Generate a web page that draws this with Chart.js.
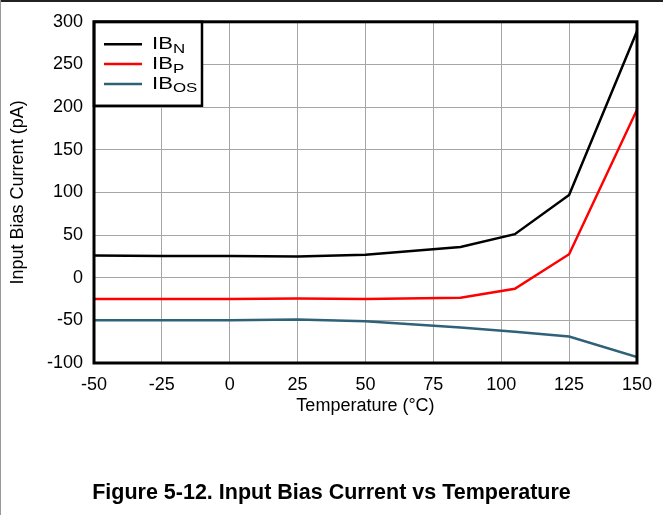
<!DOCTYPE html>
<html>
<head>
<meta charset="utf-8">
<script src="https://cdn.jsdelivr.net/npm/chart.js@4"></script>
<style>
  html, body { margin: 0; padding: 0; background: #fff; }
  #wrap { position: relative; width: 663px; height: 515px; overflow: hidden; }
  #frameTop { position: absolute; left: 0; top: 0; width: 663px; height: 2px; background: #222; }
  #frameLeft { position: absolute; left: 0; top: 0; width: 1px; height: 515px; background: #999; }
  #chartBox { position: absolute; left: 0; top: 0; width: 663px; height: 440px; }
  #caption { position: absolute; left: 0; top: 480px; width: 663px; text-align: center; line-height: 26px;
    font: bold 21.5px "Liberation Sans", Arial, sans-serif; color: #000; }
</style>
</head>
<body>
<div id="wrap">
  <div id="chartBox"><canvas id="c" width="663" height="440"></canvas></div>
  <div id="frameTop"></div>
  <div id="frameLeft"></div>
  <div id="caption">Figure 5-12. Input Bias Current vs Temperature</div>
</div>
<script>
const temps = [-50, -25, 0, 25, 50, 85, 105, 125, 150];
const ibN = [26, 25.5, 25.5, 25, 27, 36, 51, 97, 289];
const ibP = [-25, -25, -25, -24.5, -25, -23.5, -13, 27.5, 197];
const ibOS = [-50, -50, -50, -49, -51, -58.5, -63.5, -69, -93];
const xTicks = [-50, -25, 0, 25, 50, 75, 100, 125, 150];
const yTicks = [-100, -50, 0, 50, 100, 150, 200, 250, 300];

const seriesNames = ['N', 'P', 'OS'];
const seriesColors = ['#000000', '#ff0000', '#2f6178'];

function pts(vals) {
  return temps.map((t, i) => ({ x: t, y: vals[i] }));
}

const font = '"Liberation Sans", Arial, sans-serif';

const frameAndLegend = {
  id: 'frameAndLegend',
  afterDraw(chart) {
    const ctx = chart.ctx;
    const a = chart.chartArea;
    ctx.save();
    // legend box
    const lx = a.left, ly = a.top, lw = 108, lh = 84;
    ctx.fillStyle = '#fff';
    ctx.fillRect(lx, ly, lw, lh);
    ctx.strokeStyle = '#000';
    ctx.lineWidth = 2.5;
    ctx.strokeRect(lx, ly, lw, lh);
    for (let i = 0; i < seriesNames.length; i++) {
      const y = ly + 22.5 + i * 19.8;
      ctx.strokeStyle = seriesColors[i];
      ctx.lineWidth = 2.5;
      ctx.beginPath();
      ctx.moveTo(lx + 10, y);
      ctx.lineTo(lx + 48, y);
      ctx.stroke();
      // text slightly widened like the original
      ctx.save();
      ctx.translate(lx + 58, y);
      ctx.scale(1.3, 1);
      ctx.fillStyle = '#000';
      ctx.textBaseline = 'middle';
      ctx.textAlign = 'left';
      ctx.font = '17px ' + font;
      ctx.fillText('IB', 0, 0);
      const w = ctx.measureText('IB').width;
      ctx.font = '13px ' + font;
      ctx.fillText(seriesNames[i], w, 5);
      ctx.restore();
    }
    // plot frame
    ctx.strokeStyle = '#000';
    ctx.lineWidth = 3;
    ctx.strokeRect(a.left, a.top, a.right - a.left, a.bottom - a.top);
    ctx.restore();
  }
};

new Chart(document.getElementById('c'), {
  type: 'line',
  data: {
    datasets: [
      { label: 'IBN', data: pts(ibN), borderColor: seriesColors[0] },
      { label: 'IBP', data: pts(ibP), borderColor: seriesColors[1] },
      { label: 'IBOS', data: pts(ibOS), borderColor: seriesColors[2] }
    ].map(d => Object.assign(d, { borderWidth: 2.5, pointRadius: 0, tension: 0, fill: false }))
  },
  options: {
    responsive: false,
    animation: false,
    layout: { padding: { top: 17, right: 26, left: 0, bottom: 0 } },
    plugins: { legend: { display: false }, tooltip: { enabled: false } },
    scales: {
      x: {
        type: 'linear',
        min: -50,
        max: 150,
        afterBuildTicks(scale) { scale.ticks = xTicks.map(v => ({ value: v })); },
        afterFit(scale) { scale.height = 77; },
        grid: { color: '#a6a6a6', lineWidth: 1, drawTicks: false },
        border: { display: false },
        ticks: { color: '#000', font: { family: font, size: 18 }, padding: 11, maxRotation: 0 },
        title: { display: true, text: 'Temperature (°C)', color: '#000', font: { family: font, size: 18 }, padding: { top: 0, bottom: 23 } }
      },
      y: {
        min: -100,
        max: 300,
        afterBuildTicks(scale) { scale.ticks = yTicks.map(v => ({ value: v })); },
        afterFit(scale) { scale.width = 94; },
        grid: { color: '#a6a6a6', lineWidth: 1, drawTicks: false },
        border: { display: false },
        ticks: { color: '#000', font: { family: font, size: 18 }, padding: 11 },
        title: { display: true, text: 'Input Bias Current (pA)', color: '#000', font: { family: font, size: 18 }, padding: { top: 7, bottom: 0 } }
      }
    }
  },
  plugins: [frameAndLegend]
});
</script>
</body>
</html>
